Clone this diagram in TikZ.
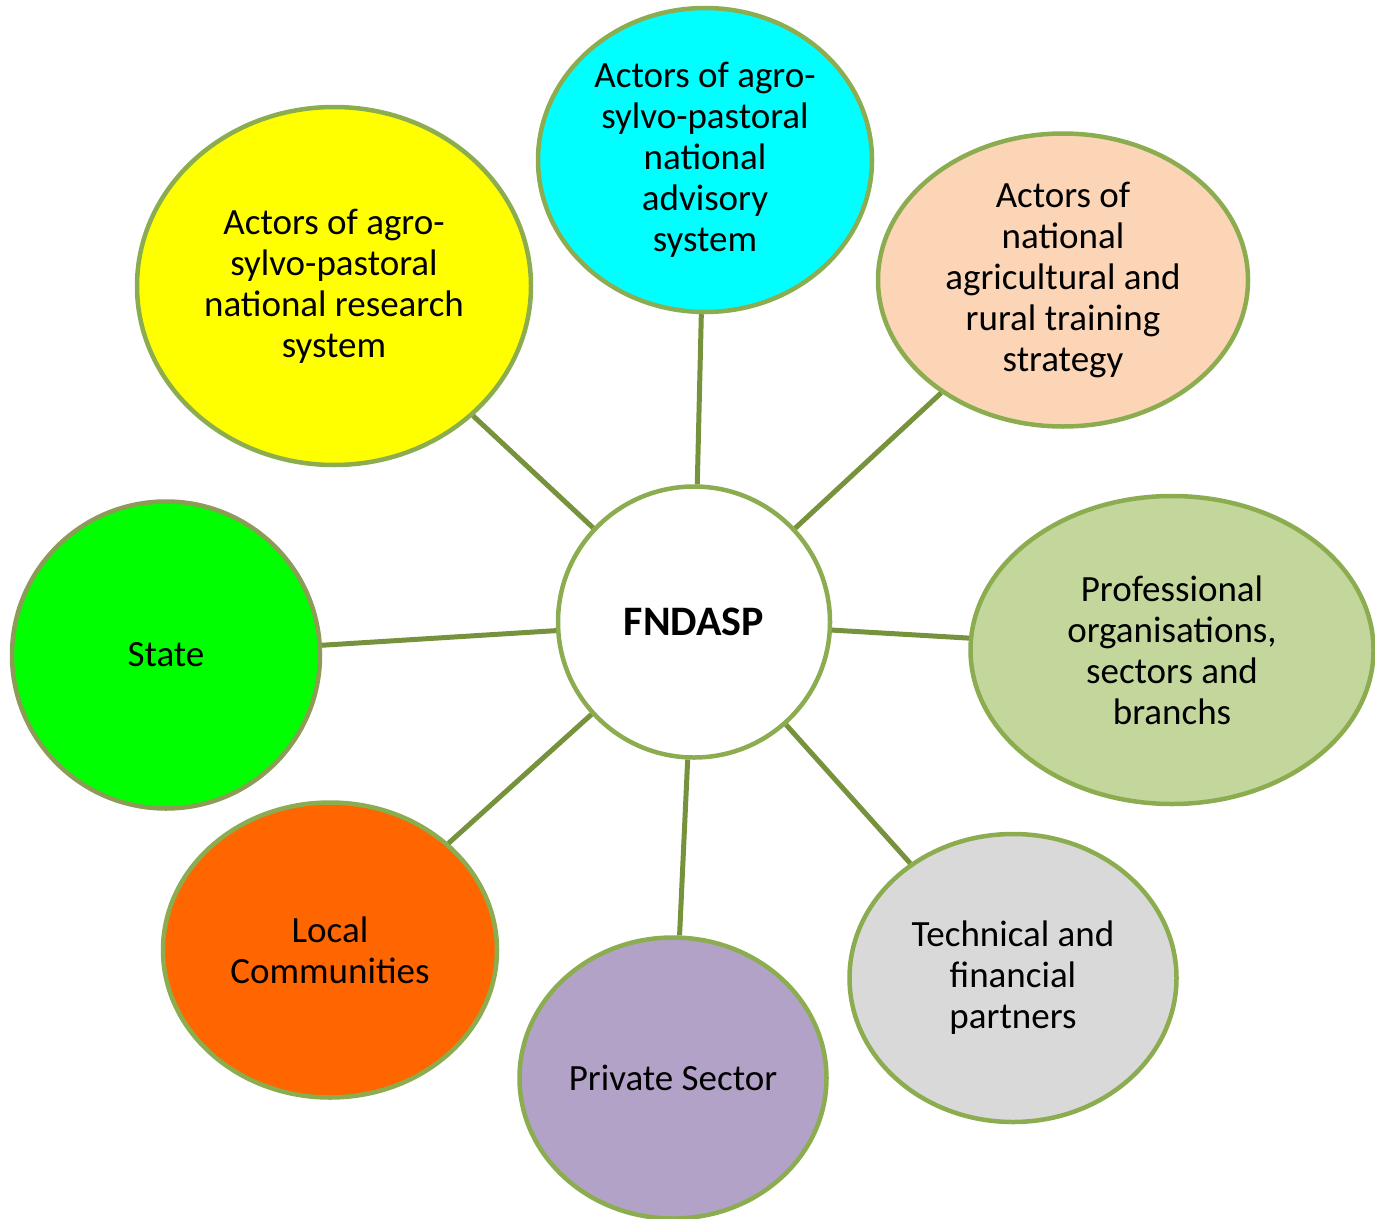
\documentclass[tikz,border=0pt]{standalone}
\usepackage{fontspec}
\setmainfont{Carlito}
\usetikzlibrary{shapes.geometric}
\definecolor{bordc}{RGB}{140,172,80}
\definecolor{linec}{RGB}{118,146,60}
\definecolor{cyellow}{RGB}{255,255,0}
\definecolor{ccyan}{RGB}{0,255,255}
\definecolor{cpeach}{RGB}{251,213,181}
\definecolor{cprof}{RGB}{195,214,155}
\definecolor{cgray}{RGB}{217,217,217}
\definecolor{cpurple}{RGB}{178,162,199}
\definecolor{corange}{RGB}{255,102,0}
\definecolor{cgreen}{RGB}{0,255,0}
\begin{document}
\begin{tikzpicture}[x=1pt,y=-1pt,
  bubble/.style={ellipse,draw=bordc,line width=4.5pt,inner sep=0pt,align=center,
     font=\fontsize{37}{41}\selectfont},
  link/.style={draw=linec,line width=5pt}]
\useasboundingbox (0,0) rectangle (1375,1218);
\node[bubble,fill=white,minimum width=272pt,minimum height=271pt,font=\fontsize{42}{41}\selectfont\bfseries] (c) at (694,622) {FNDASP};
\node[bubble,fill=cyellow,minimum width=394pt,minimum height=358pt] (y) at (334,286) {Actors of agro-\\sylvo-pastoral\\national research\\system};
\node[bubble,fill=ccyan,minimum width=334pt,minimum height=304pt] (a) at (705,160) {Actors of agro-\\sylvo-pastoral\\national\\advisory\\system};
\node[bubble,fill=cpeach,minimum width=370pt,minimum height=293pt] (p) at (1063,280) {Actors of\\national\\agricultural and\\rural training\\strategy};
\node[bubble,fill=cprof,minimum width=403pt,minimum height=308pt] (o) at (1172,650) {Professional\\organisations,\\sectors and\\branchs};
\node[bubble,fill=cgray,minimum width=327pt,minimum height=288pt] (t) at (1013,978) {Technical and\\financial\\partners};
\node[bubble,fill=cpurple,minimum width=307pt,minimum height=281pt] (s) at (673,1078) {Private Sector};
\node[bubble,fill=corange,minimum width=334pt,minimum height=295pt] (l) at (330,950) {Local\\Communities};
\node[bubble,fill=cgreen,minimum width=308pt,minimum height=307pt,draw={rgb,255:red,140;green,155;blue,85}] (g) at (166,655) {State};
\foreach \n in {y,a,p,o,t,s,l,g} {\path[link] (c) -- (\n);}
\end{tikzpicture}
\end{document}
